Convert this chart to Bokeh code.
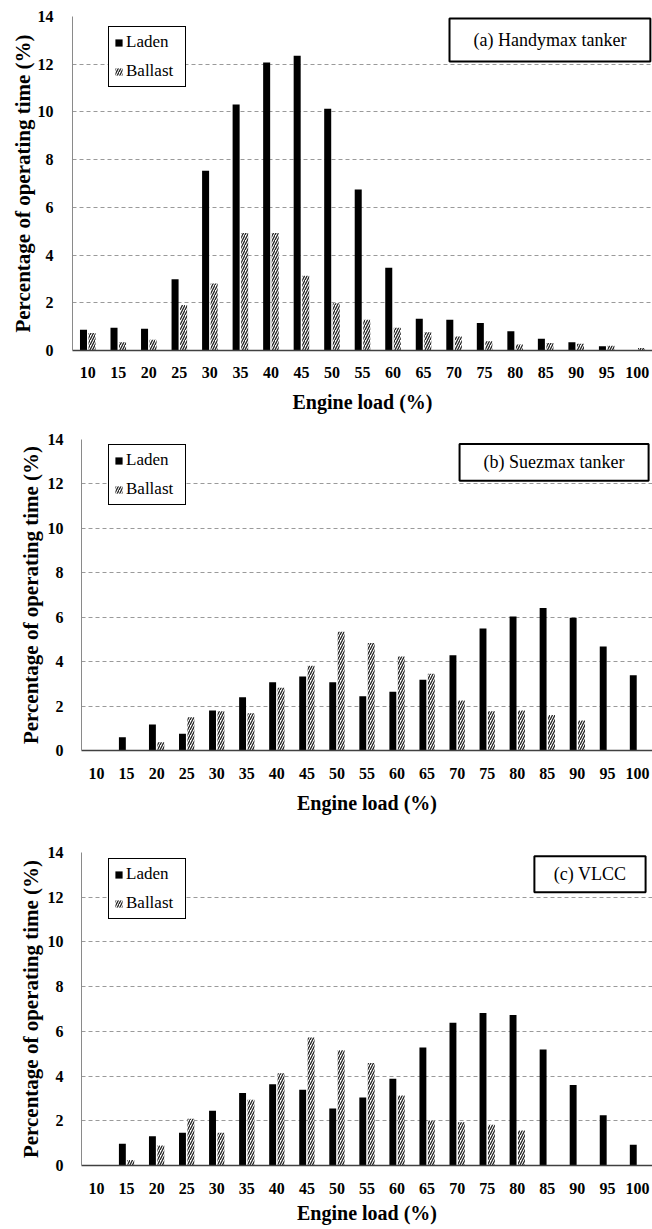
from bokeh.plotting import figure
from bokeh.models import (ColumnDataSource, FactorRange, Range1d, FixedTicker,
                          Legend, LegendItem, Label, BoxAnnotation)
from bokeh.transform import dodge
from bokeh.layouts import column, row
from bokeh.embed import file_html
from bokeh.resources import INLINE

# ---------------- data ----------------
engine_load = ["10", "15", "20", "25", "30", "35", "40", "45", "50", "55",
               "60", "65", "70", "75", "80", "85", "90", "95", "100"]

handymax_laden = [0.87, 0.95, 0.91, 2.99, 7.53, 10.31, 12.07, 12.35, 10.13, 6.75,
                  3.47, 1.33, 1.29, 1.15, 0.81, 0.49, 0.35, 0.18, 0.0]
handymax_ballast = [0.73, 0.35, 0.45, 1.91, 2.81, 4.93, 4.93, 3.13, 1.98, 1.29,
                    0.95, 0.77, 0.59, 0.39, 0.25, 0.31, 0.28, 0.20, 0.10]

suezmax_laden = [0.0, 0.60, 1.17, 0.75, 1.80, 2.40, 3.07, 3.33, 3.07, 2.44,
                 2.65, 3.19, 4.29, 5.49, 6.03, 6.42, 5.98, 4.68, 3.39]
suezmax_ballast = [0.0, 0.0, 0.37, 1.50, 1.77, 1.68, 2.82, 3.82, 5.35, 4.84,
                   4.23, 3.45, 2.25, 1.77, 1.80, 1.60, 1.35, 0.0, 0.0]

vlcc_laden = [0.0, 0.97, 1.31, 1.46, 2.45, 3.24, 3.63, 3.39, 2.55, 3.04,
              3.88, 5.28, 6.39, 6.82, 6.73, 5.19, 3.60, 2.25, 0.93]
vlcc_ballast = [0.0, 0.25, 0.90, 2.09, 1.46, 2.94, 4.13, 5.72, 5.15, 4.58,
                3.13, 2.01, 1.94, 1.82, 1.57, 0.0, 0.0, 0.0, 0.0]

series_names = ["Laden", "Ballast"]
panel_titles = ["(a) Handymax tanker", "(b) Suezmax tanker", "(c) VLCC"]
y_ticks = [0, 2, 4, 6, 8, 10, 12, 14]

FONT = "Liberation Serif"


def make_panel(laden, ballast, tag, height, b_top, b_bottom, b_left,
               ylab_standoff, ytitle_standoff, box, legend_loc,
               xlab_standoff, xtitle_standoff):
    src = ColumnDataSource(dict(load=engine_load, laden=laden, ballast=ballast))
    p = figure(x_range=FactorRange(*engine_load, range_padding=0),
               y_range=Range1d(0, 14),
               width=652, height=height,
               output_backend="svg", toolbar_location=None,
               min_border_left=b_left, min_border_right=0,
               min_border_top=b_top, min_border_bottom=b_bottom)
    p.outline_line_color = None
    p.background_fill_color = "white"
    p.border_fill_color = "white"

    r1 = p.vbar(x=dodge("load", -0.14, range=p.x_range), top="laden", width=0.23,
                source=src, fill_color="black", line_color=None)
    r2 = p.vbar(x=dodge("load", 0.14, range=p.x_range), top="ballast", width=0.23,
                source=src, fill_color="white", line_color=None,
                hatch_pattern="/", hatch_color="#222222", hatch_scale=5,
                hatch_weight=1.3)

    p.xgrid.grid_line_color = None
    p.ygrid.grid_line_color = "#9a9a9a"
    p.ygrid.grid_line_dash = "4 3"
    p.ygrid.grid_line_width = 1

    p.yaxis.ticker = FixedTicker(ticks=y_ticks)
    p.yaxis.axis_label = "Percentage of operating time (%)"
    p.yaxis.axis_label_text_font = FONT
    p.yaxis.axis_label_text_font_style = "bold"
    p.yaxis.axis_label_text_font_size = "21px"
    p.yaxis.axis_label_text_color = "black"
    p.yaxis.axis_label_standoff = ytitle_standoff
    p.yaxis.major_label_text_font = FONT
    p.yaxis.major_label_text_font_style = "bold"
    p.yaxis.major_label_text_font_size = "16px"
    p.yaxis.major_label_text_color = "black"
    p.yaxis.major_label_standoff = ylab_standoff
    p.yaxis.major_tick_out = 0
    p.yaxis.major_tick_in = 0
    p.yaxis.minor_tick_out = 0
    p.yaxis.minor_tick_in = 0
    p.yaxis.axis_line_color = "#8a8a8a"

    p.xaxis.axis_label = "Engine load (%)"
    p.xaxis.axis_label_text_font = FONT
    p.xaxis.axis_label_text_font_style = "bold"
    p.xaxis.axis_label_text_font_size = "20px"
    p.xaxis.axis_label_text_color = "black"
    p.xaxis.axis_label_standoff = xtitle_standoff
    p.xaxis.major_label_text_font = FONT
    p.xaxis.major_label_text_font_style = "bold"
    p.xaxis.major_label_text_font_size = "16px"
    p.xaxis.major_label_text_color = "black"
    p.xaxis.major_label_standoff = xlab_standoff
    p.xaxis.major_tick_out = 0
    p.xaxis.major_tick_in = 0
    p.xaxis.axis_line_color = "#404040"
    p.xaxis.axis_line_width = 1.5

    x0, x1, y1, y0 = box
    p.add_layout(BoxAnnotation(left=x0, right=x1, bottom=y0, top=y1,
                               fill_color="white", fill_alpha=1,
                               line_color="black", line_width=2, line_alpha=1))
    p.add_layout(Label(x=(x0 + x1) / 2, y=(y0 + y1) / 2, text=tag,
                       text_align="center", text_baseline="middle",
                       text_font=FONT, text_font_size="18px",
                       text_color="black"))

    legend = Legend(items=[LegendItem(label=series_names[0], renderers=[r1]),
                           LegendItem(label=series_names[1], renderers=[r2])],
                    location=legend_loc)
    legend.border_line_color = "black"
    legend.border_line_width = 1
    legend.border_line_alpha = 1
    legend.background_fill_color = "white"
    legend.background_fill_alpha = 1
    legend.label_text_font = FONT
    legend.label_text_font_size = "17px"
    legend.label_text_color = "black"
    legend.glyph_width = 9
    legend.glyph_height = 9
    legend.label_standoff = 3
    legend.label_height = 17
    legend.label_width = 54
    legend.padding = 5
    legend.spacing = 9
    legend.margin = 0
    p.add_layout(legend)
    return p


p1 = make_panel(handymax_laden, handymax_ballast, panel_titles[0],
                height=420, b_top=16, b_bottom=70, b_left=72,
                ylab_standoff=19, ytitle_standoff=0,
                box=(12.35, 18.93, 13.92, 12.11), legend_loc=(36, 263),
                xlab_standoff=16, xtitle_standoff=10)
p2 = make_panel(suezmax_laden, suezmax_ballast, panel_titles[1],
                height=410, b_top=19, b_bottom=80, b_left=81,
                ylab_standoff=18, ytitle_standoff=2,
                box=(12.58, 18.87, 13.80, 12.14), legend_loc=(27, 245),
                xlab_standoff=17, xtitle_standoff=10)
p3 = make_panel(vlcc_laden, vlcc_ballast, panel_titles[2],
                height=399, b_top=22, b_bottom=64, b_left=81,
                ylab_standoff=18, ytitle_standoff=2,
                box=(15.07, 18.77, 13.83, 12.22), legend_loc=(27, 246),
                xlab_standoff=17, xtitle_standoff=5)

layout = column(row(p1), row(p2), row(p3), spacing=0)
open("out.html", "w").write(file_html(layout, INLINE))
